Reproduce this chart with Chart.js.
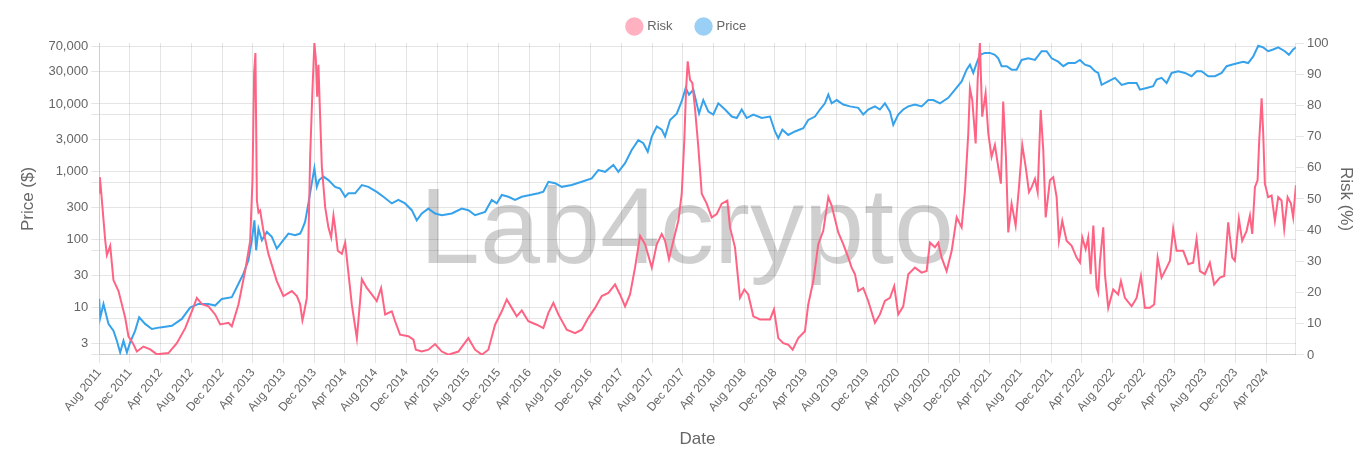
<!DOCTYPE html>
<html>
<head>
<meta charset="utf-8">
<script src="https://cdn.jsdelivr.net/npm/chart.js@4.4.1/dist/chart.umd.min.js"></script>
<style>
  html, body { margin: 0; padding: 0; background: #fff; }
  #contenedor { width: 1372px; height: 457px; }
</style>
</head>
<body>
<div id="contenedor"><canvas id="graficaRiesgo" width="1372" height="457"></canvas></div>
<script>
// dates are decimal years (2011.583 = Aug 2011)
const riskDates = [
  2011.583, 2011.590, 2011.600, 2011.648, 2011.667, 2011.703, 2011.738, 2011.793, 2011.865, 2011.901,
  2011.956, 2011.992, 2012.064, 2012.137, 2012.209, 2012.335, 2012.426, 2012.517, 2012.589, 2012.643,
  2012.698, 2012.769, 2012.842, 2012.896, 2012.986, 2013.023, 2013.095, 2013.167, 2013.222, 2013.247,
  2013.265, 2013.279, 2013.295, 2013.312, 2013.330, 2013.366, 2013.420, 2013.511, 2013.583, 2013.674,
  2013.729, 2013.764, 2013.789, 2013.800, 2013.837, 2013.854, 2013.873, 2013.898, 2013.919, 2013.935,
  2013.949, 2013.963, 2013.974, 2014.000, 2014.036, 2014.071, 2014.101, 2014.126, 2014.144, 2014.173,
  2014.217, 2014.253, 2014.282, 2014.325, 2014.380, 2014.415, 2014.434, 2014.488, 2014.542, 2014.596,
  2014.643, 2014.687, 2014.759, 2014.795, 2014.849, 2014.939, 2014.994, 2015.020, 2015.085, 2015.156,
  2015.229, 2015.302, 2015.373, 2015.482, 2015.590, 2015.663, 2015.736, 2015.807, 2015.880, 2015.953,
  2016.007, 2016.061, 2016.115, 2016.170, 2016.241, 2016.333, 2016.404, 2016.459, 2016.513, 2016.567,
  2016.658, 2016.748, 2016.821, 2016.892, 2016.965, 2017.038, 2017.110, 2017.182, 2017.236, 2017.291,
  2017.345, 2017.399, 2017.454, 2017.508, 2017.581, 2017.635, 2017.689, 2017.725, 2017.768, 2017.815,
  2017.869, 2017.906, 2017.934, 2017.953, 2017.971, 2017.996, 2018.021, 2018.050, 2018.086, 2018.123,
  2018.177, 2018.231, 2018.286, 2018.340, 2018.401, 2018.430, 2018.484, 2018.538, 2018.585, 2018.628,
  2018.683, 2018.755, 2018.864, 2018.907, 2018.954, 2019.008, 2019.062, 2019.110, 2019.171, 2019.243,
  2019.279, 2019.334, 2019.388, 2019.442, 2019.497, 2019.533, 2019.605, 2019.659, 2019.714, 2019.750,
  2019.786, 2019.822, 2019.876, 2019.930, 2020.003, 2020.057, 2020.111, 2020.166, 2020.212, 2020.256,
  2020.310, 2020.365, 2020.437, 2020.510, 2020.564, 2020.600, 2020.654, 2020.690, 2020.727, 2020.781,
  2020.836, 2020.890, 2020.944, 2020.980, 2021.016, 2021.034, 2021.059, 2021.096, 2021.118, 2021.142,
  2021.167, 2021.204, 2021.233, 2021.269, 2021.305, 2021.341, 2021.370, 2021.395, 2021.425, 2021.450,
  2021.486, 2021.530, 2021.566, 2021.602, 2021.639, 2021.675, 2021.704, 2021.740, 2021.769, 2021.802,
  2021.830, 2021.856, 2021.902, 2021.938, 2021.975, 2022.000, 2022.036, 2022.083, 2022.138, 2022.192,
  2022.228, 2022.253, 2022.290, 2022.318, 2022.344, 2022.373, 2022.409, 2022.426, 2022.445, 2022.481,
  2022.499, 2022.535, 2022.589, 2022.643, 2022.673, 2022.716, 2022.789, 2022.843, 2022.890, 2022.933,
  2022.987, 2023.034, 2023.071, 2023.114, 2023.169, 2023.205, 2023.240, 2023.277, 2023.349, 2023.403,
  2023.457, 2023.494, 2023.530, 2023.584, 2023.638, 2023.685, 2023.747, 2023.794, 2023.837, 2023.881,
  2023.910, 2023.953, 2023.989, 2024.037, 2024.073, 2024.098, 2024.127, 2024.156, 2024.174, 2024.200,
  2024.217, 2024.235, 2024.271, 2024.308, 2024.344, 2024.380, 2024.416, 2024.445, 2024.482, 2024.518,
  2024.542, 2024.572
];
const riskValues = [
  52, 57, 54, 37, 32, 35, 24, 20.5, 12, 6,
  3.4, 1.1, 2.7, 1.8, 0.2, 0.6, 3.8, 8.6, 14, 18.3,
  16.3, 15.6, 13, 9.8, 10.3, 9.2, 16.2, 26.9, 36.6, 56,
  90.5, 96.8, 49.5, 45.7, 46.3, 39.8, 32.4, 23.7, 18.9, 20.5,
  18.9, 16.3, 11.1, 12.5, 18.3, 36.6, 63.5, 85, 100, 94.7,
  82.8, 93, 82.8, 60.3, 47.4, 40.9, 37.7, 44.7, 40.9, 33.4,
  32.4, 36, 28, 16.2, 5.4, 17.3, 24.3, 21.5, 19.4, 17.3,
  21.5, 13, 14, 10.8, 6.5, 6, 4.9, 1.7, 1.1, 1.7,
  3.5, 1.1, 0.1, 1.1, 5.4, 1.7, 0.1, 1.7, 9.7, 14,
  17.8, 15.1, 12.4, 14.3, 10.8, 9.7, 8.6, 13.5, 16.7, 13,
  8.1, 7, 8.1, 11.9, 15.1, 18.9, 19.9, 22.6, 19.4, 15.6,
  19.4, 28, 38.2, 35.5, 28, 35.5, 38.8, 36.6, 30.7, 36.6,
  43, 51.7, 68.9, 85, 94.1, 88.2, 87.2, 79, 66.7, 51.7,
  48.5, 44.1, 45.2, 48.5, 49.5, 40.9, 34.5, 18.3, 21, 19.4,
  12.4, 11.4, 11.4, 14.6, 5.4, 3.8, 3.3, 1.7, 5.4, 7.6,
  16.2, 23.7, 35.5, 39.8, 50.6, 47.9, 39.3, 35.5, 31.2, 28,
  25.9, 20.5, 21.5, 17.3, 10.3, 13, 17.3, 18.3, 22.1, 13,
  15.6, 25.9, 28, 26.4, 26.9, 36, 34.5, 36, 31.2, 26.9,
  33.4, 44.1, 40.9, 52.7, 71, 85.5, 81.8, 67.8, 88.2, 100,
  76.4, 83.9, 71, 63.5, 67.3, 60.3, 54.9, 81.2, 63.5, 39.3,
  48.5, 41.5, 53.8, 67.3, 60.3, 52.2, 53.8, 56.5, 52.2, 78.5,
  65.6, 44.1, 56, 57, 50.6, 36.6, 43, 36.6, 35, 31.2,
  29.6, 37.7, 33.9, 37.7, 25.9, 41.5, 21.5, 19.9, 30, 40.9,
  25.9, 15.1, 21, 19.4, 23.7, 18.3, 15.6, 18.3, 25.3, 15.1,
  15.1, 16.2, 31.2, 24.8, 28, 30.2, 40.4, 33.4, 33.4, 29.1,
  29.6, 37.2, 26.9, 25.9, 29.6, 22.6, 24.8, 25.3, 42.5, 31.2,
  30.2, 43.6, 36.6, 39.8, 44.7, 38.8, 53.8, 56, 68.9, 82.3,
  71, 54.9, 50.6, 51.1, 43, 50.6, 49.5, 40.4, 50.6, 48.5,
  44.1, 54.4
];
const priceDates = [
  2011.583, 2011.594, 2011.630, 2011.684, 2011.738, 2011.775, 2011.811, 2011.847, 2011.884, 2011.919,
  2011.974, 2012.017, 2012.082, 2012.155, 2012.245, 2012.372, 2012.480, 2012.570, 2012.661, 2012.769,
  2012.842, 2012.914, 2013.023, 2013.095, 2013.149, 2013.203, 2013.240, 2013.268, 2013.287, 2013.312,
  2013.349, 2013.403, 2013.457, 2013.511, 2013.565, 2013.637, 2013.710, 2013.764, 2013.783, 2013.818,
  2013.854, 2013.891, 2013.919, 2013.945, 2013.970, 2014.017, 2014.071, 2014.144, 2014.198, 2014.253,
  2014.288, 2014.361, 2014.434, 2014.505, 2014.596, 2014.668, 2014.759, 2014.831, 2014.903, 2014.976,
  2015.030, 2015.085, 2015.156, 2015.229, 2015.302, 2015.410, 2015.519, 2015.590, 2015.663, 2015.772,
  2015.844, 2015.898, 2015.953, 2016.025, 2016.097, 2016.170, 2016.260, 2016.350, 2016.404, 2016.459,
  2016.531, 2016.604, 2016.712, 2016.821, 2016.929, 2017.001, 2017.074, 2017.164, 2017.218, 2017.291,
  2017.363, 2017.435, 2017.489, 2017.537, 2017.581, 2017.635, 2017.689, 2017.725, 2017.779, 2017.852,
  2017.906, 2017.949, 2017.985, 2018.032, 2018.094, 2018.140, 2018.195, 2018.249, 2018.303, 2018.376,
  2018.449, 2018.503, 2018.557, 2018.611, 2018.683, 2018.774, 2018.864, 2018.918, 2018.954, 2018.998,
  2019.062, 2019.135, 2019.225, 2019.279, 2019.352, 2019.406, 2019.460, 2019.497, 2019.533, 2019.588,
  2019.659, 2019.732, 2019.822, 2019.876, 2019.930, 2020.003, 2020.057, 2020.111, 2020.166, 2020.202,
  2020.256, 2020.310, 2020.365, 2020.437, 2020.510, 2020.582, 2020.636, 2020.709, 2020.799, 2020.872,
  2020.944, 2020.998, 2021.034, 2021.070, 2021.107, 2021.142, 2021.197, 2021.251, 2021.305, 2021.341,
  2021.378, 2021.433, 2021.487, 2021.541, 2021.595, 2021.667, 2021.740, 2021.812, 2021.866, 2021.921,
  2021.992, 2022.047, 2022.101, 2022.174, 2022.228, 2022.282, 2022.336, 2022.391, 2022.426, 2022.463,
  2022.535, 2022.608, 2022.681, 2022.752, 2022.843, 2022.879, 2022.952, 2023.023, 2023.060, 2023.114,
  2023.169, 2023.223, 2023.295, 2023.368, 2023.440, 2023.494, 2023.548, 2023.620, 2023.693, 2023.766,
  2023.820, 2023.874, 2023.946, 2024.000, 2024.054, 2024.109, 2024.163, 2024.217, 2024.271, 2024.325,
  2024.380, 2024.452, 2024.496, 2024.542, 2024.572
];
const priceValues = [
  13.4, 7, 11.3, 5.74, 4.57, 3.25, 2.18, 3.25, 2.18, 3.07,
  4.57, 7.2, 5.74, 4.84, 5.1, 5.4, 6.8, 10, 11.3, 11.3,
  10.7, 13.4, 14.2, 22.4, 31.5, 49.6, 98, 193, 69.7, 145,
  98, 130, 110, 74, 92, 123, 116, 123, 138, 183,
  342, 680, 1130, 600, 755, 850, 755, 600, 568, 428,
  482, 482, 638, 600, 505, 428, 342, 385, 342, 272,
  193, 243, 287, 243, 229, 243, 287, 272, 229, 257,
  385, 342, 455, 428, 385, 428, 455, 482, 510, 713,
  680, 600, 638, 713, 800, 1060, 1000, 1260, 1000, 1340,
  2100, 2930, 2640, 1980, 3310, 4650, 4180, 3310, 5800, 7200,
  10960, 17150, 13700, 16200, 7200, 11400, 7700, 6980, 10200, 8270,
  6520, 6200, 8270, 6200, 6980, 6200, 6520, 3930, 3130, 4180,
  3490, 3930, 4390, 5800, 6520, 8270, 10200, 13700, 10200, 11400,
  9800, 9200, 8750, 6980, 8270, 9200, 8270, 10200, 7700, 4930,
  6980, 8270, 9200, 9800, 9200, 11400, 11400, 10200, 12300, 16200,
  21500, 32000, 37800, 28600, 40000, 53000, 56400, 56400, 53000, 47000,
  36000, 36000, 32000, 32000, 44500, 47000, 44500, 59800, 59800, 47000,
  41900, 36000, 40000, 40000, 44500, 37800, 36000, 30300, 28600, 19100,
  21500, 24200, 19100, 20300, 20300, 16200, 17150, 18200, 22800, 24200,
  20300, 28600, 30300, 28600, 25600, 30300, 30300, 25600, 25600, 28600,
  36000, 37800, 40000, 41900, 40000, 50000, 72000, 68000, 59800, 63300,
  68000, 59800, 53000, 63300, 68000
];
const dateLabels = [
  "Aug 2011", "Dec 2011", "Apr 2012", "Aug 2012", "Dec 2012", "Apr 2013", "Aug 2013", "Dec 2013",
  "Apr 2014", "Aug 2014", "Dec 2014", "Apr 2015", "Aug 2015", "Dec 2015", "Apr 2016", "Aug 2016",
  "Dec 2016", "Apr 2017", "Aug 2017", "Dec 2017", "Apr 2018", "Aug 2018", "Dec 2018", "Apr 2019",
  "Aug 2019", "Dec 2019", "Apr 2020", "Aug 2020", "Dec 2020", "Apr 2021", "Aug 2021", "Dec 2021",
  "Apr 2022", "Aug 2022", "Dec 2022", "Apr 2023", "Aug 2023", "Dec 2023", "Apr 2024"
];
const priceTickValues = [2, 3, 7, 10, 30, 70, 100, 300, 700, 1000, 3000, 7000, 10000, 30000, 70000];
const priceTickLabels = [3, 10, 30, 100, 300, 1000, 3000, 10000, 30000, 70000];

const meses = {Jan: 0, Feb: 1, Mar: 2, Apr: 3, May: 4, Jun: 5, Jul: 6, Aug: 7, Sep: 8, Oct: 9, Nov: 10, Dec: 11};
function fechaDecimal(etiqueta) {
  const partes = etiqueta.split(" ");
  return parseInt(partes[1]) + meses[partes[0]] / 12;
}

const gris = "#666";
const fuente = "'Liberation Sans', Arial, sans-serif";
Chart.defaults.font.family = fuente;
Chart.defaults.color = gris;

const marcaAgua = {
  id: "marcaAgua",
  beforeDatasetsDraw(chart) {
    const ctx = chart.ctx;
    ctx.save();
    ctx.font = "108px " + fuente;
    ctx.fillStyle = "rgba(0,0,0,0.19)";
    ctx.textAlign = "center";
    ctx.textBaseline = "alphabetic";
    ctx.fillText("Lab4crypto", chart.width / 2 + 1, 263);
    ctx.restore();
  }
};

new Chart("graficaRiesgo", {
  type: "line",
  data: {
    datasets: [{
      label: "Risk",
      data: riskDates.map((d, i) => ({x: d, y: riskValues[i]})),
      borderColor: "rgb(255,99,132)",
      backgroundColor: "rgba(255,99,132,0.5)",
      borderWidth: 2,
      pointRadius: 0,
      tension: 0,
      yAxisID: "yRisk"
    }, {
      label: "Price",
      data: priceDates.map((d, i) => ({x: d, y: priceValues[i]})),
      borderColor: "rgb(54,162,235)",
      backgroundColor: "rgba(54,162,235,0.5)",
      borderWidth: 2,
      pointRadius: 0,
      tension: 0,
      yAxisID: "yPrice"
    }]
  },
  options: {
    responsive: false,
    animation: false,
    layout: {padding: {left: 14, right: 12, top: 10, bottom: 3}},
    plugins: {
      legend: {
        position: "top",
        labels: {
          usePointStyle: true,
          pointStyle: "circle",
          font: {size: 13},
          color: gris,
          generateLabels(chart) {
            const items = Chart.defaults.plugins.legend.labels.generateLabels(chart);
            items.forEach(it => { it.strokeStyle = it.fillStyle; it.lineWidth = 0; });
            // a bit more room between the two entries
            items[0].text = items[0].text + "    ";
            return items;
          }
        }
      },
      tooltip: {enabled: false}
    },
    scales: {
      x: {
        type: "linear",
        bounds: "data",
        min: riskDates[0],
        max: riskDates[riskDates.length - 1],
        afterBuildTicks(scale) {
          scale.ticks = dateLabels.map(l => ({value: fechaDecimal(l)}));
        },
        ticks: {
          autoSkip: false,
          minRotation: 50,
          maxRotation: 50,
          font: {size: 12},
          callback: (v, i) => dateLabels[i]
        },
        title: {display: true, text: "Date", font: {size: 17}, color: gris, padding: {top: 12, bottom: 4}}
      },
      yPrice: {
        type: "logarithmic",
        position: "left",
        min: 2,
        max: 79000,
        afterBuildTicks(scale) {
          scale.ticks = priceTickValues.map(v => ({value: v}));
        },
        ticks: {
          autoSkip: false,
          font: {size: 13},
          callback: v => priceTickLabels.includes(v) ? v.toLocaleString("en-US") : ""
        },
        title: {display: true, text: "Price ($)", font: {size: 17}, color: gris, padding: {top: 4, bottom: 7}}
      },
      yRisk: {
        type: "linear",
        position: "right",
        min: 0,
        max: 100,
        grid: {drawOnChartArea: false},
        ticks: {stepSize: 10, font: {size: 13}},
        title: {display: true, text: "Risk (%)", font: {size: 17}, color: gris}
      }
    }
  },
  plugins: [marcaAgua]
});
</script>
</body>
</html>
